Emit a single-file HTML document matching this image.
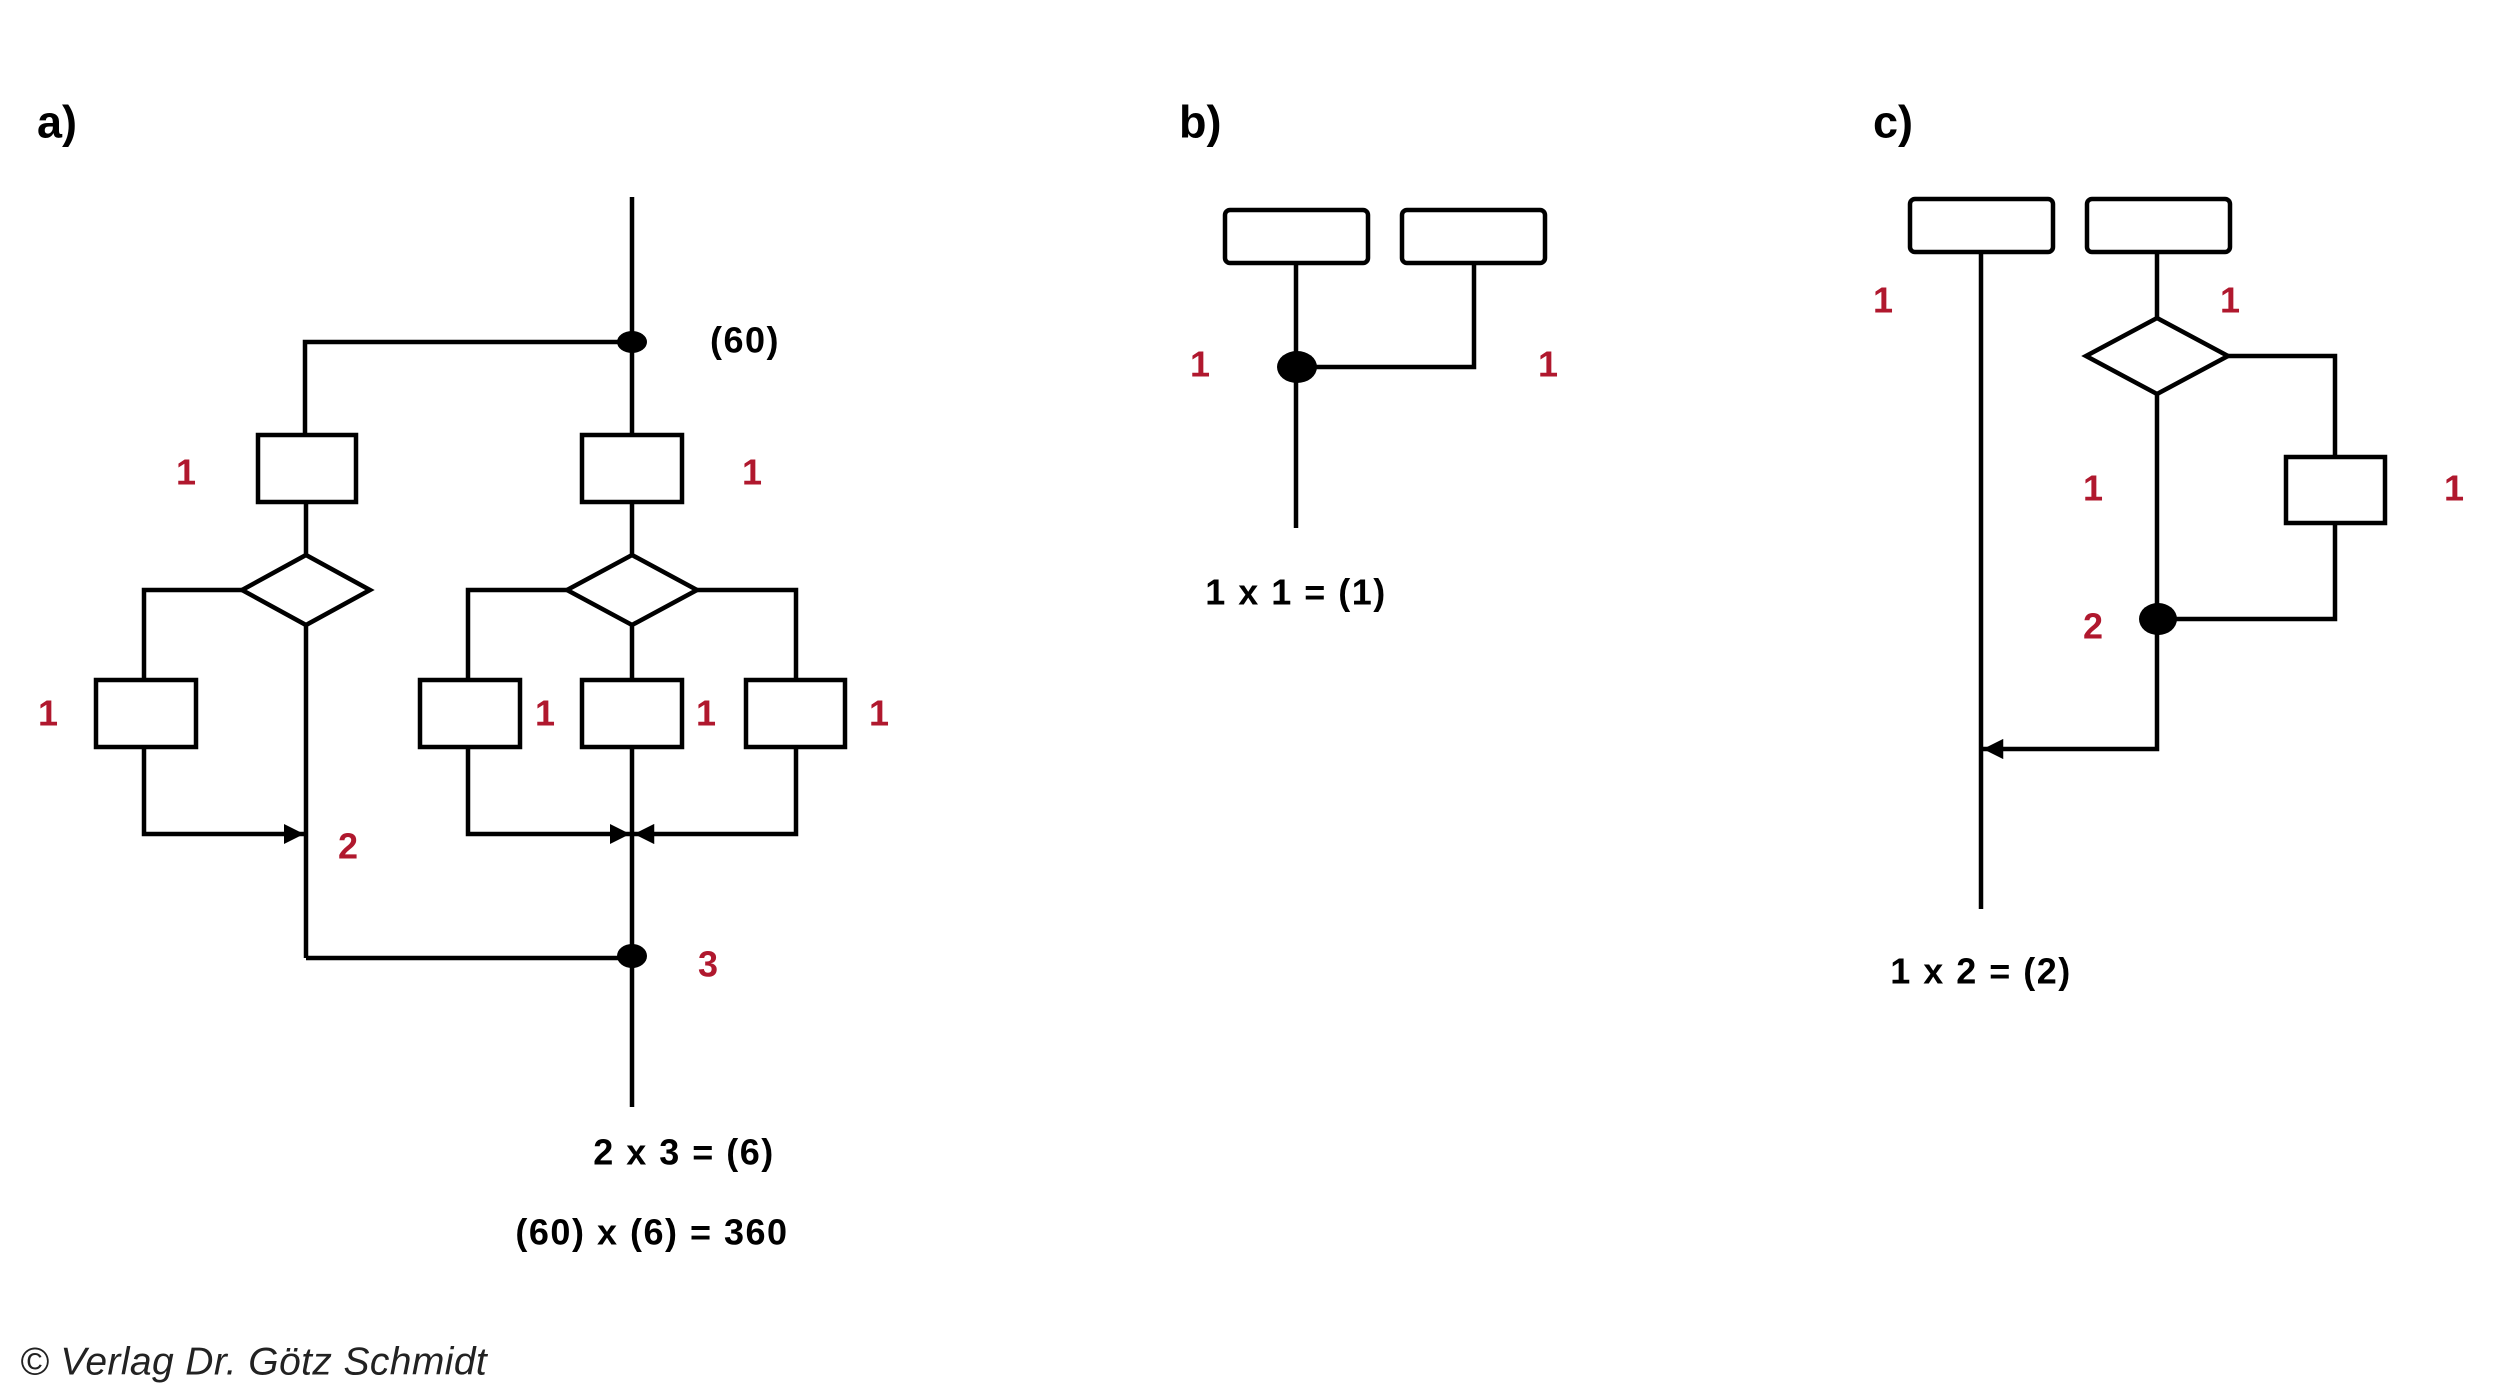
<!DOCTYPE html>
<html><head><meta charset="utf-8"><style>
html,body{margin:0;padding:0;background:#fff;}
svg{display:block;}
text{font-family:"Liberation Sans",Arial,sans-serif;font-weight:bold;}
.r{fill:#b0182e;font-size:36px;}
.k{fill:#000;font-size:36px;letter-spacing:1.5px;}
</style></head><body>
<svg width="2517" height="1393" viewBox="0 0 2517 1393" xmlns="http://www.w3.org/2000/svg">
<defs>
<marker id="ar" viewBox="0 0 10 10" refX="10" refY="5" markerWidth="4.5" markerHeight="4.5" orient="auto" markerUnits="strokeWidth">
<path d="M0,0 L10,5 L0,10 z" fill="#000"/></marker>
</defs>
<g stroke="#000" stroke-width="4.5" fill="none">
<line x1="632" y1="197" x2="632" y2="1107"/>
<polyline points="632,342 305,342 305,435"/>
<rect x="258" y="435" width="98" height="67" fill="#fff"/>
<rect x="582" y="435" width="100" height="67" fill="#fff"/>
<line x1="306" y1="502" x2="306" y2="555"/>
<polygon points="306,555 370,590 306,625 242,590" fill="#fff"/>
<polygon points="632,555 697,590 632,625 567,590" fill="#fff"/>
<line x1="306" y1="625" x2="306" y2="958"/>
<polyline points="242,590 144,590 144,680"/>
<rect x="96" y="680" width="100" height="67" fill="#fff"/>
<polyline points="144,747 144,834 304,834" marker-end="url(#ar)"/>
<polyline points="567,590 468,590 468,680"/>
<polyline points="697,590 796,590 796,680"/>
<rect x="420" y="680" width="100" height="67" fill="#fff"/>
<rect x="582" y="680" width="100" height="67" fill="#fff"/>
<rect x="746" y="680" width="99" height="67" fill="#fff"/>
<polyline points="468,747 468,834 630,834" marker-end="url(#ar)"/>
<polyline points="796,747 796,834 634,834" marker-end="url(#ar)"/>
<line x1="306" y1="958" x2="632" y2="958"/>
<rect x="1225" y="210" width="143" height="53" rx="5" fill="#fff"/>
<rect x="1402" y="210" width="143" height="53" rx="5" fill="#fff"/>
<line x1="1296" y1="263" x2="1296" y2="528"/>
<polyline points="1296,367 1474,367 1474,263"/>
<rect x="1910" y="199" width="143" height="53" rx="5" fill="#fff"/>
<rect x="2087" y="199" width="143" height="53" rx="5" fill="#fff"/>
<line x1="1981" y1="252" x2="1981" y2="909"/>
<line x1="2157" y1="252" x2="2157" y2="318"/>
<polygon points="2157,318 2228,356 2157,394 2086,356" fill="#fff"/>
<polyline points="2228,356 2335,356 2335,457"/>
<rect x="2286" y="457" width="99" height="66" fill="#fff"/>
<polyline points="2335,523 2335,619 2157,619"/>
<polyline points="2157,394 2157,749 1983,749" marker-end="url(#ar)"/>
</g>
<g fill="#000">
<ellipse cx="632" cy="342" rx="15" ry="11"/>
<ellipse cx="632" cy="956" rx="15" ry="12"/>
<ellipse cx="1297" cy="367" rx="20" ry="16"/>
<ellipse cx="2158" cy="619" rx="19" ry="16"/>
</g>
<g dominant-baseline="central">
<text x="37" y="122" style="font-size:45px">a)</text>
<text x="1179" y="122" style="font-size:45px">b)</text>
<text x="1873" y="122" style="font-size:45px">c)</text>
<text class="k" x="745" y="340" text-anchor="middle">(60)</text>
<text class="r" x="186" y="472" text-anchor="middle">1</text>
<text class="r" x="752" y="472" text-anchor="middle">1</text>
<text class="r" x="48" y="713" text-anchor="middle">1</text>
<text class="r" x="545" y="713" text-anchor="middle">1</text>
<text class="r" x="706" y="713" text-anchor="middle">1</text>
<text class="r" x="879" y="713" text-anchor="middle">1</text>
<text class="r" x="348" y="846" text-anchor="middle">2</text>
<text class="r" x="708" y="964" text-anchor="middle">3</text>
<text class="k" x="684" y="1152" text-anchor="middle">2 x 3 = (6)</text>
<text class="k" x="652" y="1232" text-anchor="middle">(60) x (6) = 360</text>
<text class="r" x="1200" y="364" text-anchor="middle">1</text>
<text class="r" x="1548" y="364" text-anchor="middle">1</text>
<text class="k" x="1296" y="592" text-anchor="middle">1 x 1 = (1)</text>
<text class="r" x="1883" y="300" text-anchor="middle">1</text>
<text class="r" x="2230" y="300" text-anchor="middle">1</text>
<text class="r" x="2093" y="488" text-anchor="middle">1</text>
<text class="r" x="2454" y="488" text-anchor="middle">1</text>
<text class="r" x="2093" y="626" text-anchor="middle">2</text>
<text class="k" x="1981" y="971" text-anchor="middle">1 x 2 = (2)</text>
<text x="20" y="1362" style="font-size:39px;font-weight:normal;font-style:italic;fill:#222;letter-spacing:0.4px">© Verlag Dr. Götz Schmidt</text>
</g>
</svg>
</body></html>
